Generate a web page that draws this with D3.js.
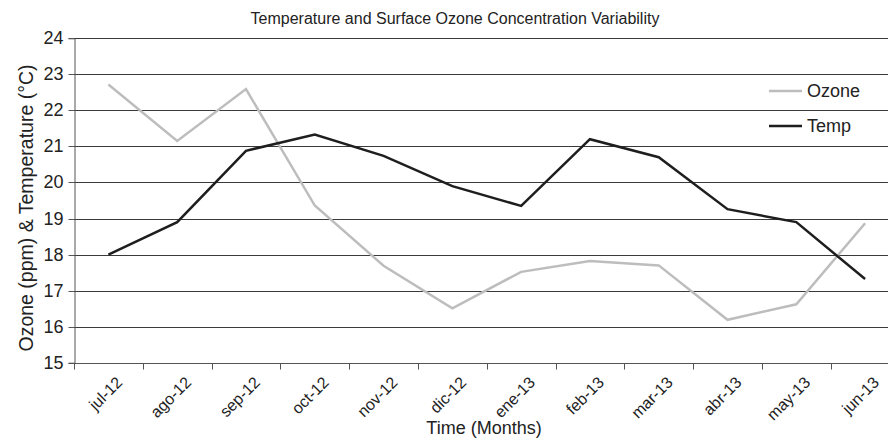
<!DOCTYPE html>
<html>
<head>
<meta charset="utf-8">
<script src="https://cdn.jsdelivr.net/npm/d3@7"></script>
<style>
  body { margin: 0; background: #fff; }
  text { font-family: "Liberation Sans", Arial, sans-serif; fill: #222; }
</style>
</head>
<body>
<div id="chart"></div>
<script>
// data
var months = ["jul-12", "ago-12", "sep-12", "oct-12", "nov-12", "dic-12",
              "ene-13", "feb-13", "mar-13", "abr-13", "may-13", "jun-13"];
var ozone = [22.72, 21.15, 22.59, 19.36, 17.69, 16.51, 17.52, 17.82, 17.7, 16.19, 16.62, 18.87];
var temp = [18.0, 18.9, 20.88, 21.33, 20.74, 19.9, 19.35, 21.2, 20.7, 19.26, 18.9, 17.32];
var yTicks = [15, 16, 17, 18, 19, 20, 21, 22, 23, 24];

var width = 888, height = 445;
// plot area (right edge runs past the picture, like the original)
var pLeft = 74, pTop = 38.3, pRight = 899.5, pBottom = 362.7;

var svg = d3.select("#chart")
    .append("svg")
    .attr("width", width)
    .attr("height", height);

var x = d3.scaleBand()
    .domain(months)
    .range([pLeft, pRight]);

var y = d3.scaleLinear()
    .domain([15, 24])
    .range([pBottom, pTop]);

// horizontal grid lines
svg.append("g")
    .selectAll("line")
    .data(yTicks.slice(1))
    .enter()
    .append("line")
    .attr("x1", pLeft)
    .attr("x2", width)
    .attr("y1", function (d) { return Math.round(y(d)) + 0.5 })
    .attr("y2", function (d) { return Math.round(y(d)) + 0.5 })
    .attr("stroke", "#3a3a3a")
    .attr("stroke-width", 1);

// y axis
var yAxis = svg.append("g")
    .attr("transform", "translate(" + (pLeft + 0.5) + ",0)")
    .call(d3.axisLeft(y).tickValues(yTicks).tickSize(6).tickPadding(5).tickFormat(d3.format("d")));
yAxis.attr("font-family", null);
yAxis.select(".domain").attr("stroke", "#555");
yAxis.selectAll(".tick line").attr("stroke", "#555");
yAxis.selectAll(".tick").attr("transform", function (d) { return "translate(0," + (Math.round(y(d)) + 0.5) + ")" });
yAxis.selectAll("text").style("font-size", "18px").attr("fill", "#222");

// x axis
var xAxis = svg.append("g")
    .attr("transform", "translate(0," + (Math.round(pBottom) + 0.5) + ")");
xAxis.append("line")
    .attr("x1", pLeft).attr("x2", width)
    .attr("stroke", "#555");
xAxis.selectAll(".xtick")
    .data(months)
    .enter()
    .append("line")
    .attr("x1", function (d) { return Math.round(x(d)) + 0.5 })
    .attr("x2", function (d) { return Math.round(x(d)) + 0.5 })
    .attr("y1", 0).attr("y2", 6)
    .attr("stroke", "#555");
xAxis.selectAll(".xlabel")
    .data(months)
    .enter()
    .append("text")
    .attr("text-anchor", "end")
    .attr("transform", function (d) {
        return "translate(" + (x(d) + x.bandwidth() / 2 + 15) + ",20) rotate(-45)";
    })
    .style("font-size", "16px")
    .text(function (d) { return d });

// lines
var line = d3.line()
    .x(function (d, i) { return x(months[i]) + x.bandwidth() / 2 })
    .y(function (d) { return y(d) });

svg.append("path")
    .datum(ozone)
    .attr("d", line)
    .attr("fill", "none")
    .attr("stroke", "#bdbdbd")
    .attr("stroke-width", 2.5);

svg.append("path")
    .datum(temp)
    .attr("d", line)
    .attr("fill", "none")
    .attr("stroke", "#1e1e1e")
    .attr("stroke-width", 2.5);

// titles
svg.append("text")
    .attr("x", 455).attr("y", 24)
    .attr("text-anchor", "middle")
    .style("font-size", "16px")
    .text("Temperature and Surface Ozone Concentration Variability");

svg.append("text")
    .attr("x", 484).attr("y", 434)
    .attr("text-anchor", "middle")
    .style("font-size", "18px")
    .text("Time (Months)");

svg.append("text")
    .attr("transform", "translate(33,208) rotate(-90)")
    .attr("text-anchor", "middle")
    .style("font-size", "19.5px")
    .text("Ozone (ppm) & Temperature (°C)");

// legend
var legend = [{ name: "Ozone", color: "#bdbdbd" }, { name: "Temp", color: "#1e1e1e" }];
var lg = svg.append("g")
    .selectAll("g")
    .data(legend)
    .enter()
    .append("g")
    .attr("transform", function (d, i) { return "translate(769," + (91 + i * 35) + ")" });
lg.append("line")
    .attr("x1", 0).attr("x2", 33)
    .attr("stroke", function (d) { return d.color })
    .attr("stroke-width", 2.5);
lg.append("text")
    .attr("x", 38).attr("y", 6.3)
    .style("font-size", "18px")
    .text(function (d) { return d.name });
</script>
</body>
</html>
